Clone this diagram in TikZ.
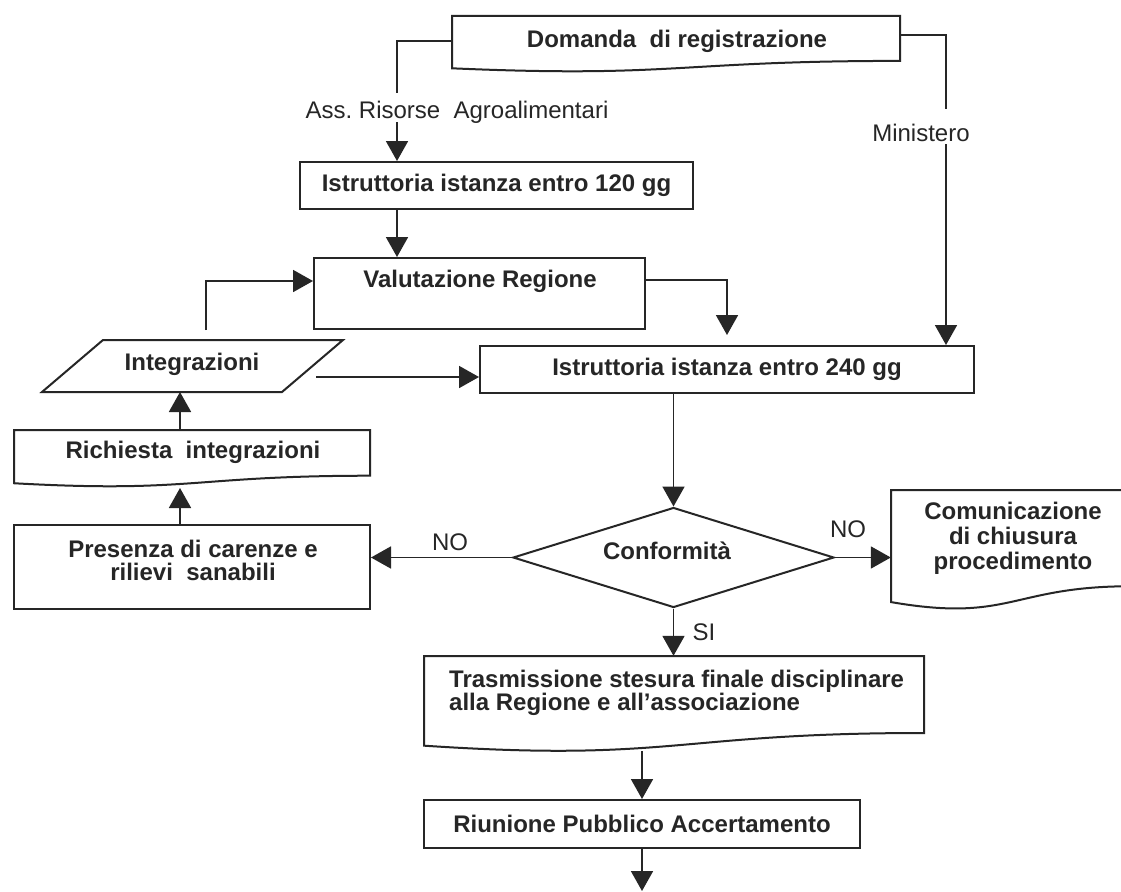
\documentclass[tikz,border=0pt]{standalone}
\usepackage{fontspec}
\setmainfont{Liberation Sans}
\usetikzlibrary{arrows.meta,shapes.geometric,calc}
\frenchspacing
% document-style box: left, top, width, height (wavy bottom edge)
\newcommand\flowdoc[4]{%
  \draw[outline] (#1,#2) -- ({#1+#3},#2) -- ({#1+#3},{#2+0.802*#4})
    .. controls ({#1+0.5*#3},{#2+0.802*#4}) and ({#1+0.5*#3},{#2+1.107*#4}) .. (#1,{#2+0.934*#4}) -- cycle;}

\begin{document}
\begin{tikzpicture}[x=1pt,y=-1pt,
  outline/.style={draw=black!85,line width=2pt},
  box/.style={outline,rectangle,inner sep=0pt},
  area/.style={rectangle,inner sep=0pt},
  txt/.style={font=\fontsize{24}{24}\selectfont\bfseries,align=center,inner sep=0pt,text=black!85},
  lbl/.style={font=\fontsize{24}{24}\selectfont,inner sep=0pt,text=black!85},
  link/.style={draw=black!85,line width=1.8pt},
  arr/.style={link,-{Triangle[length=20pt,width=22pt]}}]

\fill[white] (0,0) rectangle (1121,891);
\useasboundingbox (0,0) rectangle (1121,891);

% ---- shapes ----
\flowdoc{452}{16}{448}{56}
\node[area,minimum width=448pt,minimum height=50pt] (dom) at (676,41) {};
\node[txt] (domt) at (677,41) {Domanda~ di registrazione};

\node[box,minimum width=393pt,minimum height=47pt,text=black!85] (i120) at (496.5,185.5)
  {\fontsize{24}{24}\selectfont\bfseries Istruttoria istanza entro 120 gg};

\node[box,minimum width=331pt,minimum height=71pt] (val) at (479.5,293.5) {};
\node[txt] (valt) at (480,281) {Valutazione Regione};

\node[box,minimum width=494pt,minimum height=47pt,text=black!85] (i240) at (727,369.5)
  {\fontsize{24}{24}\selectfont\bfseries Istruttoria istanza entro 240 gg};

\draw[outline] (103,340) -- (343,340) -- (282,392) -- (42,392) -- cycle;
\node[txt] (intg) at (192,364) {Integrazioni};
\coordinate (intgtop) at (206,330);
\coordinate (intgout) at (316,377);
\coordinate (intgbot) at (180,392);

\flowdoc{14}{430}{356}{57}
\node[area,minimum width=356pt,minimum height=44pt] (ric) at (192,452) {};
\node[txt] (rict) at (193,452) {Richiesta~ integrazioni};
\coordinate (ricbot) at (180,488);

\node[box,minimum width=356pt,minimum height=84pt] (pres) at (192,567) {};
\node[txt,font=\fontsize{24}{23}\selectfont\bfseries] (prest) at (193,560)
  {Presenza di carenze e\\rilievi~ sanabili};

\node[outline,diamond,minimum width=321pt,minimum height=100pt,inner sep=0pt] (conf) at (673.5,557.5) {};
\node[txt] (conft) at (667,551) {Conformità};

\flowdoc{891}{490}{240}{120}
\node[area,minimum width=240pt,minimum height=92pt] (com) at (1011,536) {};
\node[txt,font=\fontsize{24}{25}\selectfont\bfseries] (comt) at (1013,538)
  {Comunicazione\\di chiusura\\procedimento};

\flowdoc{424}{656}{500}{96}
\node[area,minimum width=500pt,minimum height=84pt] (tra) at (674,698) {};
\node[txt,align=left,anchor=west,font=\fontsize{24}{23}\selectfont\bfseries] (trat) at (449,693)
  {Trasmissione stesura finale disciplinare\\alla Regione e all'associazione};
\coordinate (trabot) at (642,751);

\node[box,minimum width=436pt,minimum height=48pt,text=black!85] (riu) at (642,824)
  {\fontsize{24}{24}\selectfont\bfseries Riunione Pubblico Accertamento};
\coordinate (fin) at (642,891);

% ---- connectors ----
\draw[arr] (dom.west) -| ($(i120.north west)+(98,0)$);
\node[lbl,anchor=base,fill=white,inner xsep=3pt,text height=26pt,text depth=3.5pt] (ass) at (457,118.5)
  {Ass. Risorse~ Agroalimentari};

\draw[arr] ($(dom.north east)+(0,19)$) -| ($(i240.north west)+(467,0)$);
\node[lbl,anchor=base,fill=white,inner xsep=3pt,text height=32pt,text depth=3pt] (min) at (921,141)
  {Ministero};

\draw[arr] ($(i120.south west)+(98,0)$) -- ($(val.north west)+(84,0)$);
\draw[arr] ($(val.north east)+(0,23)$) -| ($(i240.north)+(0,-10)$);
\draw[arr] (intgtop) |- ($(val.north west)+(0,24)$);
\draw[arr] (intgout) -- (intgout -| i240.west);
\draw[arr] (ric.north -| intgbot) -- (intgbot);
\draw[arr] (pres.north -| ricbot) -- (ricbot);
\draw[arr] (i240.south -| conf.north) -- (conf.north);
\draw[arr] (conf.west) -- (conf.west -| pres.east);
\node[lbl] (nol) at (450,542) {NO};
\draw[arr] (conf.east) -- (conf.east -| com.west);
\node[lbl] (nor) at (848,529) {NO};
\draw[arr] (conf.south) -- (conf.south |- tra.north);
\node[lbl] (si) at (704,632) {SI};
\draw[arr] (trabot) -- (trabot |- riu.north);
\draw[arr] (riu.south) -- (fin);

\end{tikzpicture}
\end{document}
